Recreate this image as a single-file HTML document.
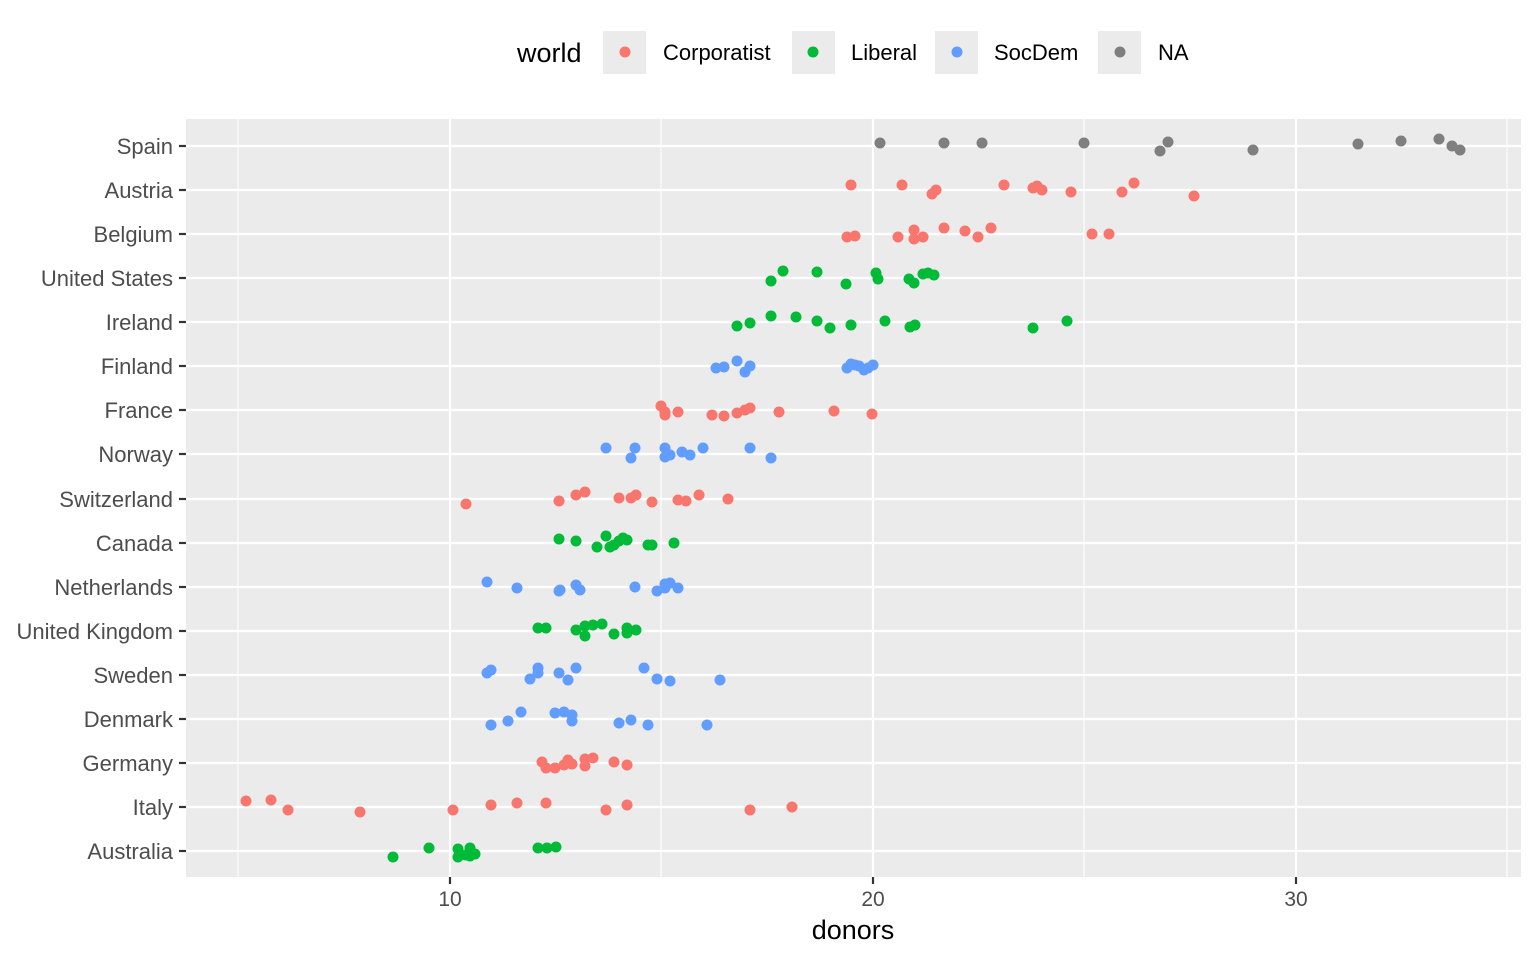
<!DOCTYPE html>
<html><head><meta charset="utf-8"><style>body{margin:0;background:#fff}svg{display:block}text{font-family:"Liberation Sans",Arial,sans-serif}</style></head><body>
<svg width="1536" height="960" xmlns="http://www.w3.org/2000/svg">
<rect x="186" y="119" width="1335" height="758" fill="#EBEBEB"/>
<g stroke="#fff" stroke-width="1.1">
<line x1="238" y1="119" x2="238" y2="877"/><line x1="661" y1="119" x2="661" y2="877"/><line x1="1084" y1="119" x2="1084" y2="877"/><line x1="1507" y1="119" x2="1507" y2="877"/>
</g>
<g stroke="#fff" stroke-width="2.2">
<line x1="450" y1="119" x2="450" y2="877"/><line x1="873" y1="119" x2="873" y2="877"/><line x1="1296" y1="119" x2="1296" y2="877"/>
<line x1="186" x2="1521" y1="146" y2="146"/><line x1="186" x2="1521" y1="190" y2="190"/><line x1="186" x2="1521" y1="234" y2="234"/><line x1="186" x2="1521" y1="278" y2="278"/><line x1="186" x2="1521" y1="322" y2="322"/><line x1="186" x2="1521" y1="366" y2="366"/><line x1="186" x2="1521" y1="410" y2="410"/><line x1="186" x2="1521" y1="454" y2="454"/><line x1="186" x2="1521" y1="499" y2="499"/><line x1="186" x2="1521" y1="543" y2="543"/><line x1="186" x2="1521" y1="587" y2="587"/><line x1="186" x2="1521" y1="631" y2="631"/><line x1="186" x2="1521" y1="675" y2="675"/><line x1="186" x2="1521" y1="719" y2="719"/><line x1="186" x2="1521" y1="763" y2="763"/><line x1="186" x2="1521" y1="807" y2="807"/><line x1="186" x2="1521" y1="851" y2="851"/>
</g>
<g stroke="#333" stroke-width="2.2">
<line x1="179" x2="186" y1="146" y2="146"/><line x1="179" x2="186" y1="190" y2="190"/><line x1="179" x2="186" y1="234" y2="234"/><line x1="179" x2="186" y1="278" y2="278"/><line x1="179" x2="186" y1="322" y2="322"/><line x1="179" x2="186" y1="366" y2="366"/><line x1="179" x2="186" y1="410" y2="410"/><line x1="179" x2="186" y1="454" y2="454"/><line x1="179" x2="186" y1="499" y2="499"/><line x1="179" x2="186" y1="543" y2="543"/><line x1="179" x2="186" y1="587" y2="587"/><line x1="179" x2="186" y1="631" y2="631"/><line x1="179" x2="186" y1="675" y2="675"/><line x1="179" x2="186" y1="719" y2="719"/><line x1="179" x2="186" y1="763" y2="763"/><line x1="179" x2="186" y1="807" y2="807"/><line x1="179" x2="186" y1="851" y2="851"/>
<line x1="450" x2="450" y1="877" y2="884"/><line x1="873" x2="873" y1="877" y2="884"/><line x1="1296" x2="1296" y1="877" y2="884"/>
</g>
<g font-size="22" fill="#4D4D4D" text-anchor="end">
<text x="173" y="154">Spain</text><text x="173" y="198">Austria</text><text x="173" y="242">Belgium</text><text x="173" y="286">United States</text><text x="173" y="330">Ireland</text><text x="173" y="374">Finland</text><text x="173" y="418">France</text><text x="173" y="462">Norway</text><text x="173" y="507">Switzerland</text><text x="173" y="551">Canada</text><text x="173" y="595">Netherlands</text><text x="173" y="639">United Kingdom</text><text x="173" y="683">Sweden</text><text x="173" y="727">Denmark</text><text x="173" y="771">Germany</text><text x="173" y="815">Italy</text><text x="173" y="859">Australia</text>
</g>
<g font-size="21" fill="#4D4D4D" text-anchor="middle"><text x="450" y="906">10</text><text x="873" y="906">20</text><text x="1296" y="906">30</text></g>
<text x="853" y="939" font-size="27" text-anchor="middle" fill="#000">donors</text>
<text x="517" y="62" font-size="27" fill="#000">world</text>
<rect x="603" y="31" width="43" height="43" fill="#EBEBEB"/><circle cx="625" cy="52" r="5.5" fill="#F8766D"/><text x="663" y="60" font-size="22">Corporatist</text>
<rect x="792" y="31" width="43" height="43" fill="#EBEBEB"/><circle cx="813" cy="52" r="5.5" fill="#00BA38"/><text x="851" y="60" font-size="22">Liberal</text>
<rect x="935" y="31" width="43" height="43" fill="#EBEBEB"/><circle cx="957" cy="52" r="5.5" fill="#619CFF"/><text x="994" y="60" font-size="22">SocDem</text>
<rect x="1098" y="31" width="43" height="43" fill="#EBEBEB"/><circle cx="1120" cy="52" r="5.5" fill="#7F7F7F"/><text x="1158" y="60" font-size="22">NA</text>
<g id="pts"></g>
</svg>
<script>
var R="#F8766D",G="#00BA38",B="#619CFF",N="#7F7F7F";
var d=[[N,"880,143 944,143 982,143 1084,143 1160,151 1168,142 1253,150 1358,144 1401,141 1439,139 1452,146 1460,150"],
[R,"851,185 902,185 932,194 936,190 1004,185 1033,188 1037,186 1042,190 1071,192 1122,192 1134,183 1194,196"],
[R,"847,237 855,236 898,237 914,230 914,239 923,237 944,228 965,231 978,237 991,228 1092,234 1109,234"],
[G,"771,281 783,271 817,272 846,284 876,273 878,279 909,279 914,283 923,274 928,273 934,275"],
[G,"737,326 750,323 771,316 796,317 817,321 830,328 851,325 885,321 910,327 915,325 1033,328 1067,321"],
[B,"716,368 724,367 737,361 745,372 750,366 847,368 851,364 855,365 859,366 864,370 868,368 873,365"],
[R,"661,406 665,415 665,412 678,412 712,415 724,416 737,413 745,410 750,408 779,412 834,411 872,414"],
[B,"606,448 631,458 635,448 665,448 665,457 670,455 682,452 690,455 703,448 750,448 771,458"],
[R,"466,504 559,501 576,495 585,492 619,498 631,498 636,495 652,502 678,500 686,501 699,495 728,499"],
[G,"559,539 576,541 597,547 606,536 610,547 614,545 619,541 623,538 627,540 648,545 652,545 674,543"],
[B,"487,582 517,588 559,591 560,590 576,585 580,590 635,587 657,591 665,584 665,588 670,583 678,588"],
[G,"538,628 546,628 576,630 585,626 585,636 593,625 602,624 614,634 627,628 627,633 636,630"],
[B,"487,673 491,670 530,679 538,668 538,673 559,673 568,680 576,668 644,668 657,679 670,681 720,680"],
[B,"491,725 508,721 521,712 555,713 564,712 572,715 572,721 619,723 631,720 648,725 707,725"],
[R,"542,762 546,768 555,768 564,765 568,760 572,764 585,759 585,766 593,758 614,762 627,765"],
[R,"246,801 271,800 288,810 360,812 453,810 491,805 517,803 546,803 606,810 627,805 750,810 792,807"],
[G,"393,857 429,848 458,849 458,857 466,855 470,848 470,856 475,854 538,848 547,848 556,847"]];
var g=document.getElementById("pts"),s="";
d.forEach(function(r){r[1].split(" ").forEach(function(p){var q=p.split(",");s+='<circle cx="'+q[0]+'" cy="'+q[1]+'" r="5.5" fill="'+r[0]+'"/>';});});
g.innerHTML=s;
</script>
</body></html>
